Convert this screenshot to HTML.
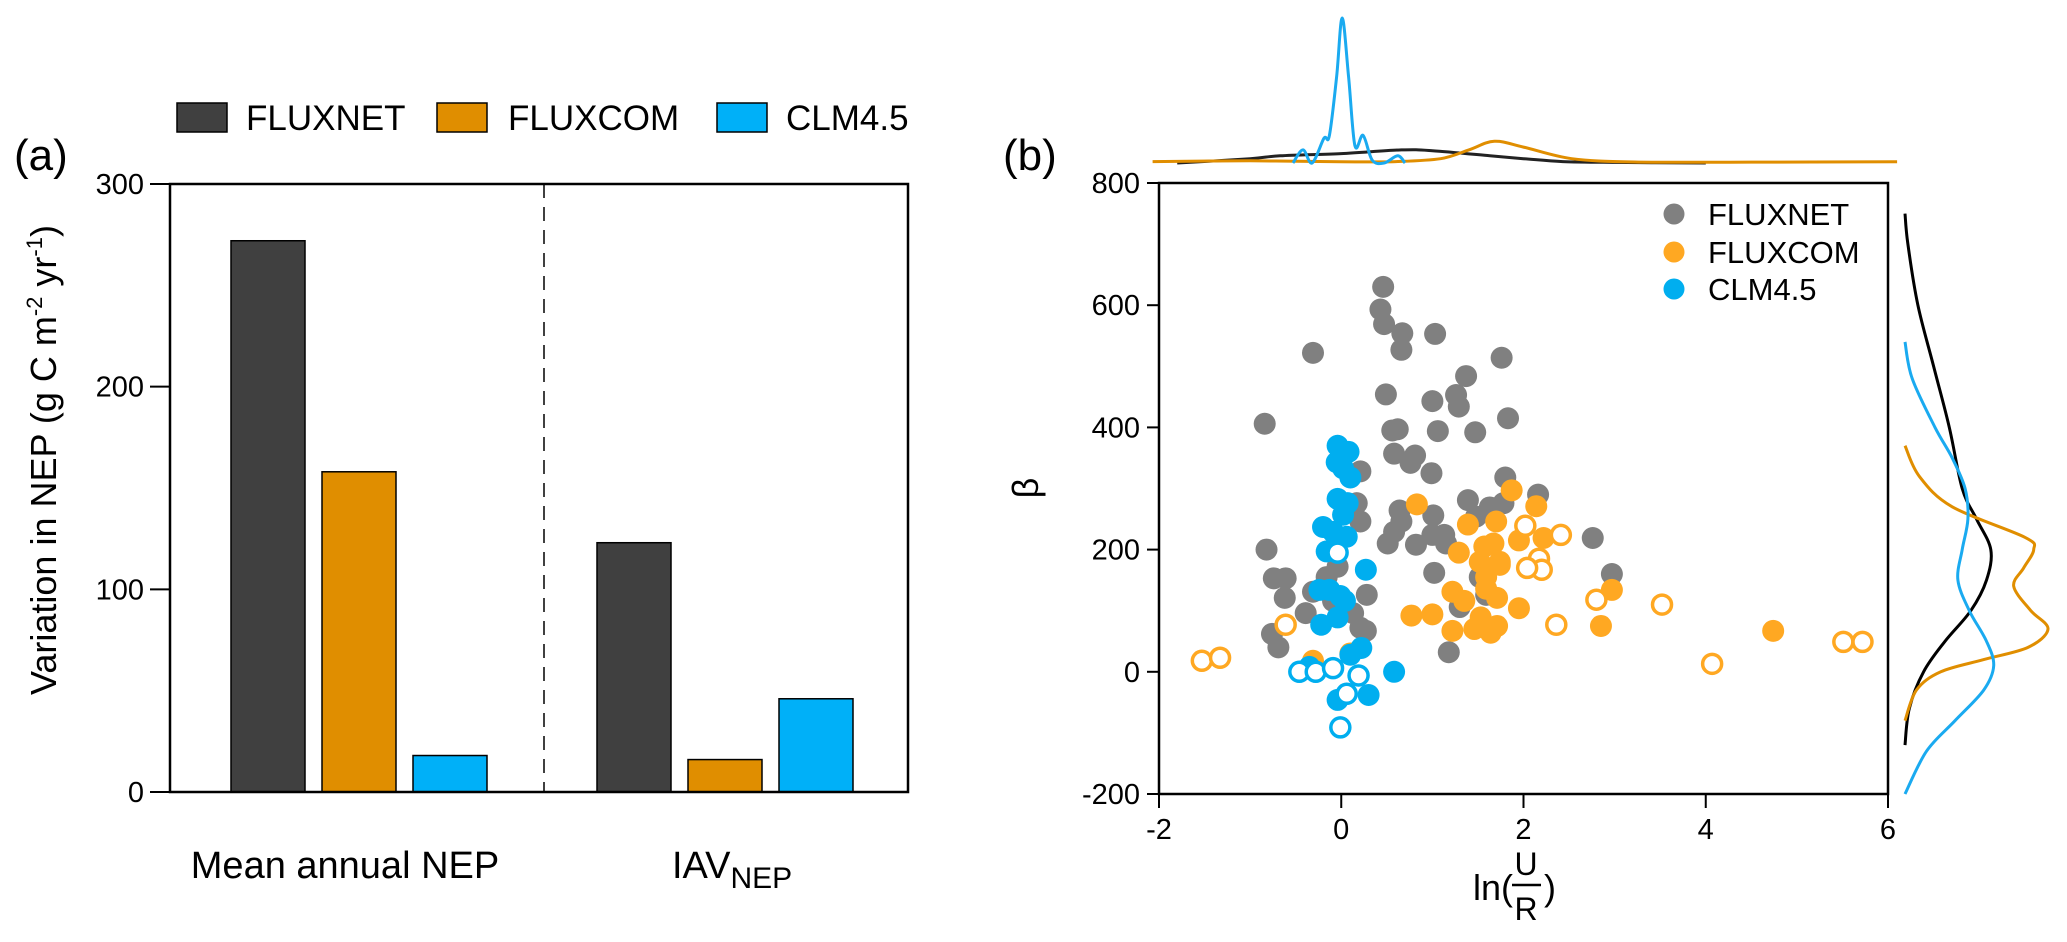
<!DOCTYPE html>
<html><head><meta charset="utf-8">
<style>
html,body{margin:0;padding:0;background:#fff;}
svg{display:block;font-family:"Liberation Sans",Arial,sans-serif;}
</style></head>
<body>
<svg id="fig" width="2067" height="942" viewBox="0 0 2067 942" xmlns="http://www.w3.org/2000/svg">
<g id="panelA"></g>
<g id="panelB"></g>
</svg>
<script>
// ---------- Panel (a) data ----------
const barGroups = ["Mean annual NEP", "IAV"];
const barSeries = ["FLUXNET", "FLUXCOM", "CLM4.5"];
const fluxnetBars = [272, 123];
const fluxcomBars = [158, 16];
const clmBars = [18, 46];
const aTicks = [0, 100, 200, 300];

// ---------- Panel (b) data ----------
const xTicks = [-2, 0, 2, 4, 6];
const yTicks = [-200, 0, 200, 400, 600, 800];
const grayX = [0.46,0.43,-0.31,0.47,0.67,0.66,1.03,1.76,1.37,0.49,1.0,1.26,1.29,-0.84,1.83,0.56,0.62,1.06,1.47,0.58,0.81,0.76,0.99,0.21,1.8,2.16,1.39,0.17,0.64,0.66,0.21,1.63,1.78,1.48,1.01,0.58,0.51,0.82,1.0,1.13,1.15,2.76,-0.82,-0.04,1.02,2.97,-0.74,-0.61,-0.62,-0.31,0.28,-0.39,0.13,1.3,0.21,0.27,-0.76,-0.69,1.18,1.52,1.59,-0.09,-0.16];
const grayY = [630,593,522,569,554,527,553,514,484,454,443,453,434,406,415,395,397,394,392,357,354,342,325,328,318,290,281,276,264,246,246,269,276,254,256,229,210,208,224,224,210,219,200,172,162,160,153,153,121,131,126,96,96,106,72,67,62,40,32,155,126,116,155];
const orangeX = [0.83,1.87,2.14,1.39,1.7,1.29,1.95,2.22,1.57,1.67,1.74,1.52,1.59,1.74,1.59,1.22,1.35,1.71,2.97,0.77,1.0,1.22,1.53,1.95,1.46,1.71,1.64,2.85,4.74,-0.31,0.1,1.48];
const orangeY = [274,297,271,241,246,195,215,219,205,210,180,180,155,175,136,131,116,121,134,92,94,67,89,104,70,75,64,75,67,18,30,72];
const orangeOpenX = [-0.61,-1.53,-1.33,2.02,2.41,2.17,2.2,2.04,2.8,3.52,2.36,4.07,5.51,5.72];
const orangeOpenY = [77,18,23,239,224,185,167,170,118,110,77,13,49,49];
const blueX = [-0.04,0.08,-0.05,0.02,0.1,-0.04,0.07,0.02,-0.2,-0.09,0.06,-0.16,0.27,-0.24,-0.13,-0.01,0.04,-0.22,-0.04,0.22,0.1,0.58,0.3,-0.04,-0.35];
const blueY = [370,360,343,333,318,283,276,257,237,229,221,197,167,134,134,124,116,77,89,39,28,0,-38,-46,8];
const blueOpenX = [-0.04,-0.46,-0.28,-0.09,0.19,0.06,-0.01];
const blueOpenY = [195,0,0,6,-6,-36,-91];

// top marginal densities (x value, relative density)
const topBlackX = [-1.8,-1.0,-0.67,0,0.66,1.0,1.63,2.0,2.43,3.0,4.0];
const topBlackD = [0,0.03,0.05,0.065,0.09,0.085,0.05,0.03,0.01,0.004,0];
const topOrangeX = [-2.07,-1.0,0,0.6,1.09,1.4,1.68,2.0,2.53,3.22,4.5,6.1];
const topOrangeD = [0.01,0.015,0.008,0.01,0.03,0.09,0.15,0.11,0.03,0.007,0.006,0.008];
const topBlueX = [-0.53,-0.42,-0.32,-0.19,-0.13,-0.05,0.01,0.08,0.15,0.24,0.34,0.47,0.62,0.7];
const topBlueD = [0,0.09,0.0,0.17,0.19,0.6,1.0,0.6,0.12,0.19,0.02,0,0.05,0];

// right marginal densities (y value, relative density)
const rightBlackY = [750,700,600,500,400,300,250,200,150,100,50,0,-60,-120];
const rightBlackD = [0,0.02,0.09,0.2,0.31,0.4,0.5,0.6,0.57,0.46,0.28,0.13,0.03,0];
const rightOrangeY = [370,320,270,220,200,170,140,100,70,40,20,0,-30,-80];
const rightOrangeD = [0,0.1,0.33,0.84,0.9,0.83,0.76,0.88,1.0,0.86,0.55,0.25,0.08,0];
const rightBlueY = [540,480,400,350,300,250,200,150,100,50,10,-30,-80,-130,-200];
const rightBlueD = [0,0.05,0.21,0.33,0.42,0.44,0.4,0.37,0.45,0.57,0.62,0.55,0.35,0.15,0];

const NS = "http://www.w3.org/2000/svg";
function mk(tag, attrs, parent){
  const e = document.createElementNS(NS, tag);
  for (const k in attrs) e.setAttribute(k, attrs[k]);
  parent.appendChild(e);
  return e;
}
function smoothPath(pts){
  let d = "M" + pts[0][0].toFixed(1) + "," + pts[0][1].toFixed(1);
  for (let i = 0; i < pts.length - 1; i++){
    const p0 = pts[i-1] || pts[i], p1 = pts[i], p2 = pts[i+1], p3 = pts[i+2] || p2;
    const c1 = [p1[0] + (p2[0]-p0[0])/6, p1[1] + (p2[1]-p0[1])/6];
    const c2 = [p2[0] - (p3[0]-p1[0])/6, p2[1] - (p3[1]-p1[1])/6];
    d += " C" + c1[0].toFixed(1) + "," + c1[1].toFixed(1) + " " + c2[0].toFixed(1) + "," + c2[1].toFixed(1) + " " + p2[0].toFixed(1) + "," + p2[1].toFixed(1);
  }
  return d;
}

// ================= Panel A =================
const A = document.getElementById("panelA");
const aL = 170, aR = 908, aT = 184, aB = 792;
const ay = v => aB - (v / 300) * (aB - aT);
const barColors = ["#404040", "#E08E00", "#00B0F8"];
const allBars = [fluxnetBars, fluxcomBars, clmBars];
const groupStart = [231, 597];
const barW = 74, barStep = 91;
for (let g = 0; g < barGroups.length; g++){
  for (let s = 0; s < 3; s++){
    const v = allBars[s][g];
    const r = mk("rect", {x: groupStart[g] + s*barStep, y: ay(v), width: barW, height: ay(0) - ay(v), fill: barColors[s], stroke: "#000", "stroke-width": 1.5}, A);
    
    
  }
}
const frameA = mk("rect", {x: aL, y: aT, width: aR-aL, height: aB-aT, fill: "none", stroke: "#000", "stroke-width": 2.5}, A);


const dash = mk("line", {x1: 544, y1: aT, x2: 544, y2: aB, stroke: "#000", "stroke-width": 1.5, "stroke-dasharray": "14,9"}, A);


for (const t of aTicks){
  const tl = mk("line", {x1: aL-20, y1: ay(t), x2: aL, y2: ay(t), stroke: "#000", "stroke-width": 2}, A);
  
  
  const tx = mk("text", {x: aL-26, y: ay(t)+10, "text-anchor": "end", "font-size": 29}, A);
  tx.textContent = t;
  
  
}
</script>
<script>
// static labels for panel A
(function(){
  const A = document.getElementById("panelA");
  A.insertAdjacentHTML("beforeend",
   '<text x="14" y="170" font-size="44">(a)</text>' +
   '<text transform="translate(56,460) rotate(-90)" text-anchor="middle" font-size="36">Variation in NEP (g C m<tspan dy="-14" font-size="22">-2</tspan><tspan dy="14"> yr</tspan><tspan dy="-14" font-size="22">-1</tspan><tspan dy="14">)</tspan></text>' +
   '<text x="345" y="878" text-anchor="middle" font-size="38">Mean annual NEP</text>' +
   '<text x="672" y="878" font-size="38">IAV<tspan dy="10" font-size="30">NEP</tspan></text>' +
   '<g>' +
   '<rect x="177" y="103" width="50" height="29" fill="#404040" stroke="#000" stroke-width="1.5"/>' +
   '<text x="246" y="130" font-size="35">FLUXNET</text>' +
   '<rect x="437" y="103" width="50" height="29" fill="#E08E00" stroke="#000" stroke-width="1.5"/>' +
   '<text x="508" y="130" font-size="35">FLUXCOM</text>' +
   '<rect x="717" y="103" width="50" height="29" fill="#00B0F8" stroke="#000" stroke-width="1.5"/>' +
   '<text x="786" y="130" font-size="35">CLM4.5</text>' +
   '</g>');
})();

// ================= Panel B =================
(function(){
const B = document.getElementById("panelB");
const bL = 1159, bR = 1888, bT = 183, bB = 794;
const bx = v => bL + (v + 2) / 8 * (bR - bL);
const by = v => bB - (v + 200) / 1000 * (bB - bT);

const frame = mk("rect", {x: bL, y: bT, width: bR-bL, height: bB-bT, fill: "none", stroke: "#000", "stroke-width": 2.5}, B);


for (const t of xTicks){
  const l = mk("line", {x1: bx(t), y1: bB, x2: bx(t), y2: bB+14, stroke: "#000", "stroke-width": 2}, B);
  
  
  const tx = mk("text", {x: bx(t), y: bB+45, "text-anchor": "middle", "font-size": 29}, B);
  tx.textContent = t;
  
  
}
for (const t of yTicks){
  const l = mk("line", {x1: bL-12, y1: by(t), x2: bL, y2: by(t), stroke: "#000", "stroke-width": 2}, B);
  
  
  const tx = mk("text", {x: bL-19, y: by(t)+10, "text-anchor": "end", "font-size": 29}, B);
  tx.textContent = t;
  
  
}
function dots(xs, ys, color, open, name){
  const g = mk("g", {}, B);
  
  
  for (let i = 0; i < xs.length; i++){
    const c = mk("circle", open ? {cx: bx(xs[i]), cy: by(ys[i]), r: 9.5, fill: "#fff", stroke: color, "stroke-width": 3.5}
                                : {cx: bx(xs[i]), cy: by(ys[i]), r: 11, fill: color}, g);
    
    
  }
}
dots(grayX, grayY, "#808080", false, "fluxnet-points");
dots(orangeX, orangeY, "#FFA822", false, "fluxcom-points");
dots(orangeOpenX, orangeOpenY, "#FFA822", true, "fluxcom-open-points");
dots(blueX, blueY, "#00AEEF", false, "clm45-points");
dots(blueOpenX, blueOpenY, "#00AEEF", true, "clm45-open-points");

// top marginal
const topBase = 163, topH = 145;
function topCurve(xs, ds, color, name){
  const p = mk("path", {d: smoothPath(xs.map((x,i)=>[bx(x), topBase - ds[i]*topH])), fill: "none", stroke: color, "stroke-width": 3}, B);
  
  
}
topCurve(topBlackX, topBlackD, "#222", "top-density-fluxnet");
topCurve(topOrangeX, topOrangeD, "#E08E00", "top-density-fluxcom");
topCurve(topBlueX, topBlueD, "#1AAAF0", "top-density-clm45");
// right marginal
const rBase = 1905, rW = 143;
function rightCurve(ys, ds, color, name){
  const p = mk("path", {d: smoothPath(ys.map((y,i)=>[rBase + ds[i]*rW, by(y)])), fill: "none", stroke: color, "stroke-width": 3}, B);
  
  
}
rightCurve(rightBlackY, rightBlackD, "#000", "right-density-fluxnet");
rightCurve(rightOrangeY, rightOrangeD, "#E08E00", "right-density-fluxcom");
rightCurve(rightBlueY, rightBlueD, "#1AAAF0", "right-density-clm45");

B.insertAdjacentHTML("beforeend",
 '<text x="1003" y="170" font-size="44">(b)</text>' +
 '<text transform="translate(1038,488) rotate(-90)" text-anchor="middle" font-size="36">β</text>' +
 '<g>' +
 '<text x="1473" y="900" font-size="36">ln(</text>' +
 '<text x="1526" y="875" text-anchor="middle" font-size="32">U</text>' +
 '<line x1="1512" y1="885" x2="1541" y2="885" stroke="#000" stroke-width="2.5"/>' +
 '<text x="1526" y="920" text-anchor="middle" font-size="32">R</text>' +
 '<text x="1544" y="900" font-size="36">)</text></g>' +
 '<g>' +
 '<circle cx="1674" cy="214" r="10.5" fill="#808080"/>' +
 '<text x="1708" y="225" font-size="31">FLUXNET</text>' +
 '<circle cx="1674" cy="252" r="10.5" fill="#FFA822"/>' +
 '<text x="1708" y="263" font-size="31">FLUXCOM</text>' +
 '<circle cx="1674" cy="289" r="10.5" fill="#00AEEF"/>' +
 '<text x="1708" y="300" font-size="31">CLM4.5</text></g>');
})();
</script>
</body></html>
